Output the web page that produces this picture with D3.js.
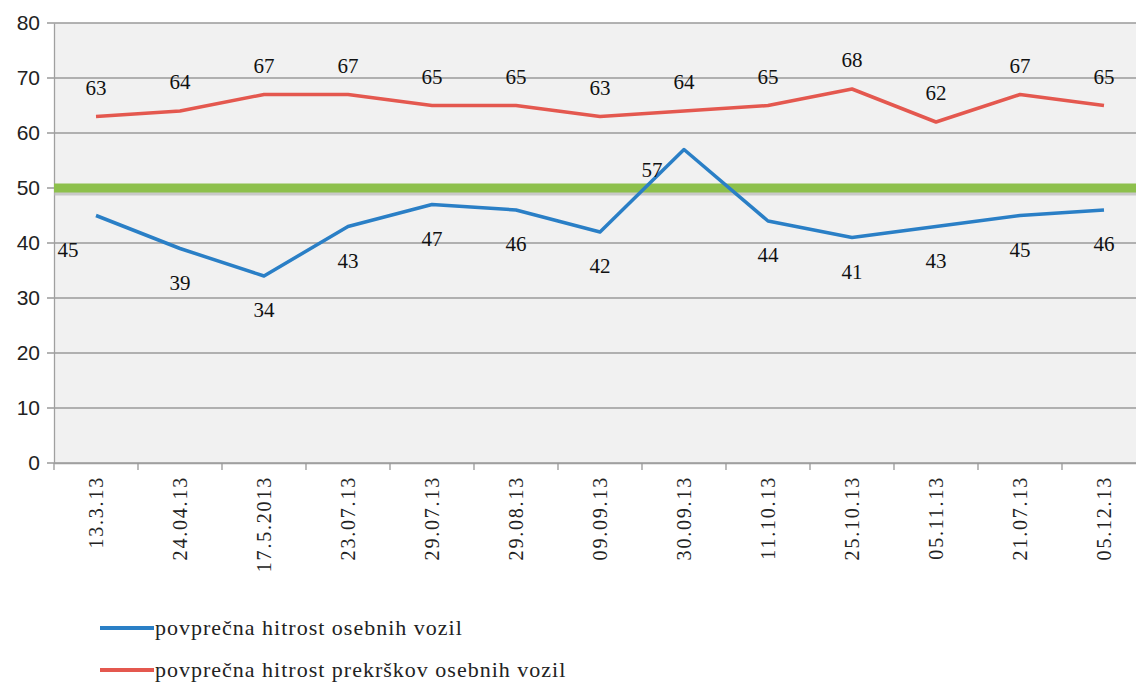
<!DOCTYPE html>
<html>
<head>
<meta charset="utf-8">
<script src="https://cdn.jsdelivr.net/npm/d3@7"></script>
<style>
  html, body { margin: 0; padding: 0; background: #ffffff; }
  svg { display: block; }
</style>
</head>
<body>
<svg id="chart" width="1136" height="684"></svg>
<script>
const dates = ['13.3.13', '24.04.13', '17.5.2013', '23.07.13', '29.07.13', '29.08.13', '09.09.13',
  '30.09.13', '11.10.13', '25.10.13', '05.11.13', '21.07.13', '05.12.13'];
const avgSpeed = [45, 39, 34, 43, 47, 46, 42, 57, 44, 41, 43, 45, 46];
const avgOffence = [63, 64, 67, 67, 65, 65, 63, 64, 65, 68, 62, 67, 65];
const limit = 50;
const yTicks = [0, 10, 20, 30, 40, 50, 60, 70, 80];
const seriesNames = ['povprečna hitrost osebnih vozil', 'povprečna hitrost prekrškov osebnih vozil'];

const BLUE = '#2a7fc6';
const RED = '#e4584f';
const GREEN = '#8dc04c';
const SERIF = '"Liberation Serif", "Times New Roman", serif';
const SANS = '"Liberation Sans", Arial, sans-serif';

const margin = { left: 54, top: 23 };
const plotW = 84 * dates.length;
const plotH = 440;

const svg = d3.select('#chart');

const x = d3.scaleBand()
  .domain(dates)
  .range([margin.left, margin.left + plotW]);

const y = d3.scaleLinear()
  .domain([0, 80])
  .range([margin.top + plotH, margin.top]);

// plot background
svg.append('rect')
  .attr('x', margin.left)
  .attr('y', margin.top)
  .attr('width', plotW)
  .attr('height', plotH)
  .attr('fill', '#f1f1f1');

// gridlines
svg.append('g')
  .selectAll('line')
  .data(yTicks)
  .join('line')
  .attr('x1', margin.left - 7)
  .attr('x2', margin.left + plotW)
  .attr('y1', (d) => y(d))
  .attr('y2', (d) => y(d))
  .attr('stroke', '#9a9a9a')
  .attr('stroke-width', 1.3);

// y axis
const yAxis = d3.axisLeft(y).tickValues(yTicks).tickSize(0).tickPadding(14);
svg.append('g')
  .attr('transform', `translate(${margin.left},0)`)
  .call(yAxis)
  .call((g) => g.select('.domain').attr('stroke', '#a0a0a0').attr('stroke-width', 1.3))
  .call((g) => g.selectAll('text')
    .style('font-family', SANS)
    .style('font-size', '21px')
    .attr('fill', '#222'));

// x axis
const xAxis = d3.axisBottom(x).tickSize(0).tickPadding(0);
const xg = svg.append('g')
  .attr('transform', `translate(0,${y(0)})`)
  .call(xAxis);
xg.select('.domain').attr('stroke', '#a0a0a0').attr('stroke-width', 1.3);
xg.selectAll('.tick text')
  .style('font-family', SERIF)
  .style('font-size', '20px')
  .style('letter-spacing', '1.8px')
  .attr('fill', '#222')
  .attr('text-anchor', 'end')
  .attr('transform', 'rotate(-90)')
  .attr('x', -13)
  .attr('y', 0)
  .attr('dy', '0.35em');

// category boundary ticks
svg.append('g')
  .selectAll('line')
  .data(dates)
  .join('line')
  .attr('x1', (d) => x(d))
  .attr('x2', (d) => x(d))
  .attr('y1', y(0))
  .attr('y2', y(0) + 7)
  .attr('stroke', '#999')
  .attr('stroke-width', 1.3);

// limit line with shadow
svg.append('line')
  .attr('x1', margin.left)
  .attr('x2', margin.left + plotW)
  .attr('y1', y(limit) + 5)
  .attr('y2', y(limit) + 5)
  .attr('stroke', '#b9b9b9')
  .attr('stroke-width', 5)
  .attr('opacity', 0.7);
svg.append('line')
  .attr('x1', margin.left)
  .attr('x2', margin.left + plotW)
  .attr('y1', y(limit))
  .attr('y2', y(limit))
  .attr('stroke', GREEN)
  .attr('stroke-width', 9);

const cx = (d, i) => x(dates[i]) + x.bandwidth() / 2;
const line = d3.line().x((d, i) => cx(d, i)).y((d) => y(d));

svg.append('path')
  .datum(avgOffence)
  .attr('d', line)
  .attr('fill', 'none')
  .attr('stroke', RED)
  .attr('stroke-width', 3.5)
  .attr('stroke-linejoin', 'round');

svg.append('path')
  .datum(avgSpeed)
  .attr('d', line)
  .attr('fill', 'none')
  .attr('stroke', BLUE)
  .attr('stroke-width', 3.5)
  .attr('stroke-linejoin', 'round');

// data labels
svg.append('g')
  .selectAll('text')
  .data(avgOffence)
  .join('text')
  .attr('x', (d, i) => cx(d, i))
  .attr('y', (d) => y(d) - 22)
  .attr('text-anchor', 'middle')
  .style('font-family', SERIF)
  .style('font-size', '21px')
  .attr('fill', '#111')
  .text((d) => d);

// blue labels sit below the point, except first (left) and the peak (lower left)
const blueOffset = (i) => {
  if (i === 0) return [-28, 41];
  if (i === 7) return [-32, 27];
  return [0, 41];
};
svg.append('g')
  .selectAll('text')
  .data(avgSpeed)
  .join('text')
  .attr('x', (d, i) => cx(d, i) + blueOffset(i)[0])
  .attr('y', (d, i) => y(d) + blueOffset(i)[1])
  .attr('text-anchor', 'middle')
  .style('font-family', SERIF)
  .style('font-size', '21px')
  .attr('fill', '#111')
  .text((d) => d);

// legend
const legend = svg.append('g').attr('transform', 'translate(100,628)');
[BLUE, RED].forEach((c, i) => {
  const ly = i * 42;
  legend.append('line')
    .attr('x1', 0)
    .attr('x2', 54)
    .attr('y1', ly)
    .attr('y2', ly)
    .attr('stroke', c)
    .attr('stroke-width', 4);
  legend.append('text')
    .attr('x', 55)
    .attr('y', ly)
    .attr('dy', '0.32em')
    .style('font-family', SERIF)
    .style('font-size', '22px')
    .style('letter-spacing', '1px')
    .attr('fill', '#222')
    .text(seriesNames[i]);
});
</script>
</body>
</html>
